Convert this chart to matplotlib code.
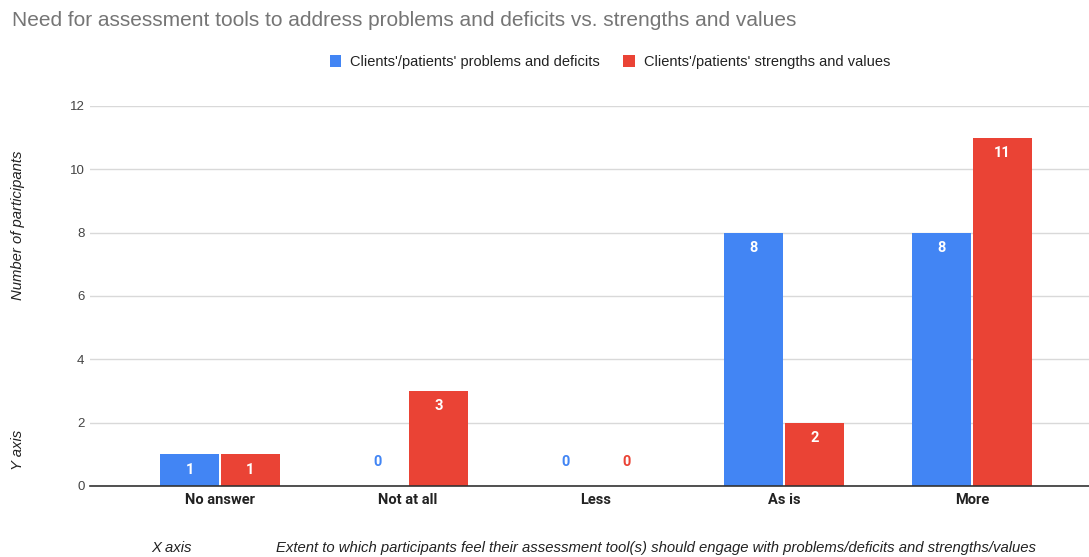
import numpy as np
import matplotlib.pyplot as plt

# ---- Données
categories = ["No answer", "Not at all", "Less", "As is", "More"]
series_names = ["Clients'/patients' problems and deficits",
                "Clients'/patients' strengths and values"]
problems = [1, 0, 0, 8, 8]
strengths = [1, 3, 0, 2, 11]
yticks = [0, 2, 4, 6, 8, 10, 12]

title = "Need for assessment tools to address problems and deficits vs. strengths and values"
ylabel = "Number of participants"
xlabel = "Extent to which participants feel their assessment tool(s) should engage with problems/deficits and strengths/values"

blue = "#4285F4"
red = "#EA4335"

plt.rcParams['font.family'] = ['Liberation Sans', 'DejaVu Sans']

fig = plt.figure(figsize=(10.89, 5.57), dpi=100)
ax = fig.add_axes([90/1089, 1-486/557, 1-90/1089, (486-106)/557])

x = np.arange(len(categories))
w = 0.311
gap = 0.006
values = [problems, strengths]
colors = [blue, red]
offsets = [-(w/2 + gap), (w/2 + gap)]

for vals, col, off, name in zip(values, colors, offsets, series_names):
    bars = ax.bar(x + off, vals, width=w, color=col, label=name, zorder=3)
    for b, v in zip(bars, vals):
        cx = b.get_x() + b.get_width()/2
        if v > 0:
            ax.annotate(str(v), (cx, v), xytext=(0, -11), textcoords='offset points',
                        ha='center', va='center', color='white', fontsize=10.5,
                        fontweight='bold', family='Roboto', zorder=4)
        else:
            ax.annotate(str(v), (cx, 0), xytext=(0, 17), textcoords='offset points',
                        ha='center', va='center', color=col, fontsize=10.5,
                        fontweight='bold', family='Roboto', zorder=4)

ax.set_xlim(-0.691, 4.622)
ax.set_ylim(0, 12)
ax.set_yticks(yticks)
ax.set_yticklabels([str(t) for t in yticks], fontsize=9.5, color='#444444')
ax.set_xticks(x)
ax.set_xticklabels(categories, fontsize=10.5, fontweight='bold', family='Roboto', color='#222222')
ax.tick_params(axis='both', length=0)
ax.tick_params(axis='y', pad=4)
ax.tick_params(axis='x', pad=5)

ax.grid(axis='y', color='#d9d9d9', linewidth=1, zorder=0)
for s in ['top', 'right', 'left']:
    ax.spines[s].set_visible(False)
ax.spines['bottom'].set_color('#333333')
ax.spines['bottom'].set_linewidth(1.2)
ax.spines['bottom'].set_zorder(5)

# ---- Titres et libellés
fig.text(12/1089, 1-20/557, title, fontsize=15, color='#757575', ha='left', va='center')
fig.text(18/1089, 1-225/557, ylabel, fontsize=10.7, style='italic', color='#222222',
         rotation=90, ha='center', va='center')
fig.text(18/1089, 1-450/557, "Y axis", fontsize=10.7, style='italic', color='#222222',
         rotation=90, ha='center', va='center')
fig.text(151/1089, 1-548/557, "X axis", fontsize=10.7, style='italic', color='#222222',
         ha='left', va='center')
fig.text(276/1089, 1-548/557, xlabel, fontsize=10.7, style='italic', color='#222222',
         ha='left', va='center')

fig.legend(loc='center', bbox_to_anchor=(0.56, 1-62/557), ncol=2, frameon=False,
           fontsize=10.5, handlelength=0.8, handleheight=0.8, handletextpad=0.6,
           columnspacing=1.6, labelcolor='#222222')

fig.savefig("out.png", dpi=100)
